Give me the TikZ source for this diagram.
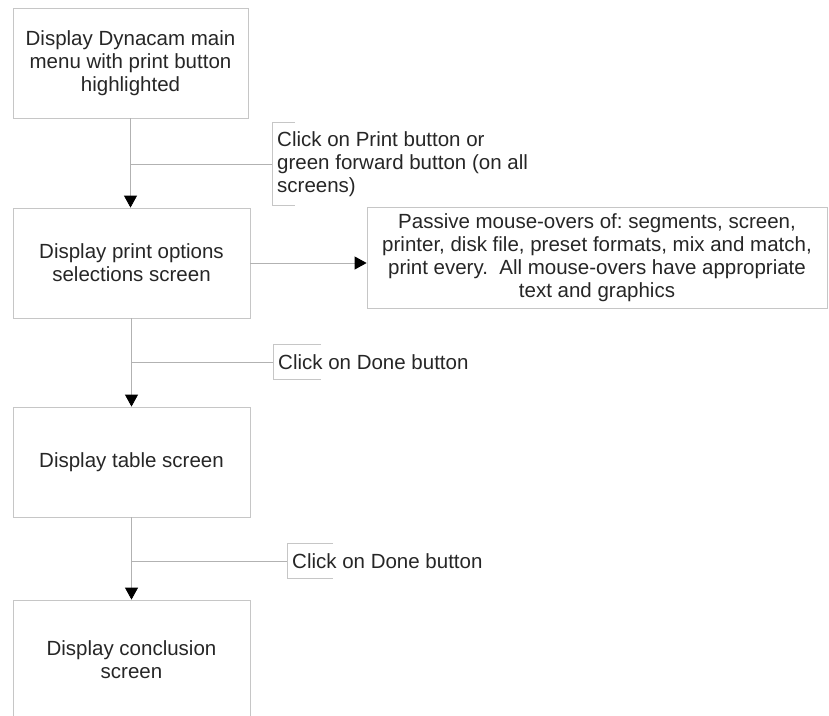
\documentclass[tikz,border=0pt]{standalone}
\usepackage{fontspec}
\setmainfont{Liberation Sans}
\usetikzlibrary{arrows.meta}
\frenchspacing

\begin{document}
\begin{tikzpicture}[
  x=1pt,
  y=-1pt,
  every node/.style={font=\fontsize{20.5}{23}\selectfont, text=black!85},
  stepbox/.style={draw=gray!45, line width=0.8pt, align=center, inner sep=0pt},
  note/.style={anchor=west, align=left, inner xsep=5pt, inner ysep=0pt},
  bracket/.style={draw=gray!45, line width=0.8pt},
  conn/.style={draw=gray!60, line width=0.8pt},
  arr/.style={conn, -{Triangle[width=13pt,length=12pt,color=black]}}
]
\useasboundingbox (0,0) rectangle (829,715);

% screens
\node[stepbox, minimum width=235, minimum height=110] (m1) at (130.5,63)
  {Display Dynacam main\\menu with print button\\highlighted};
\node[stepbox, minimum width=237, minimum height=110] (m2) at (131.5,263)
  {Display print options\\selections screen};
\node[stepbox, minimum width=237, minimum height=110] (m3) at (131.5,462)
  {Display table screen};
\node[stepbox, minimum width=237, minimum height=120] (m4) at (131.5,660)
  {Display conclusion\\screen};

% mouse-over box
\node[stepbox, minimum width=460, minimum height=101] (p1) at (597,257.5)
  {Passive mouse-overs of: segments, screen,\\printer, disk file, preset formats, mix and match,\\print every.\ \ All mouse-overs have appropriate\\text and graphics};

% user actions
\node[note, minimum height=82] (c1) at (272,164)
  {Click on Print button or\\green forward button (on all\\screens)};
\node[note, minimum height=34] (c2) at (273,362) {Click on Done button};
\node[note, minimum height=34] (c3) at (287,561) {Click on Done button};

\draw[bracket] ([xshift=23]c1.north west) -- (c1.north west) -- (c1.south west) -- ([xshift=23]c1.south west);
\draw[bracket] ([xshift=48]c2.north west) -- (c2.north west) -- (c2.south west) -- ([xshift=48]c2.south west);
\draw[bracket] ([xshift=46]c3.north west) -- (c3.north west) -- (c3.south west) -- ([xshift=46]c3.south west);

% flow
\draw[arr] (m1.south) -- (m1.south |- m2.north);
\draw[conn] (m1.south |- c1.west) -- (c1.west);
\draw[arr] (m2.east) -- (m2.east -| p1.west);
\draw[arr] (m2.south) -- (m2.south |- m3.north);
\draw[conn] (m2.south |- c2.west) -- (c2.west);
\draw[arr] (m3.south) -- (m3.south |- m4.north);
\draw[conn] (m3.south |- c3.west) -- (c3.west);
\end{tikzpicture}
\end{document}
